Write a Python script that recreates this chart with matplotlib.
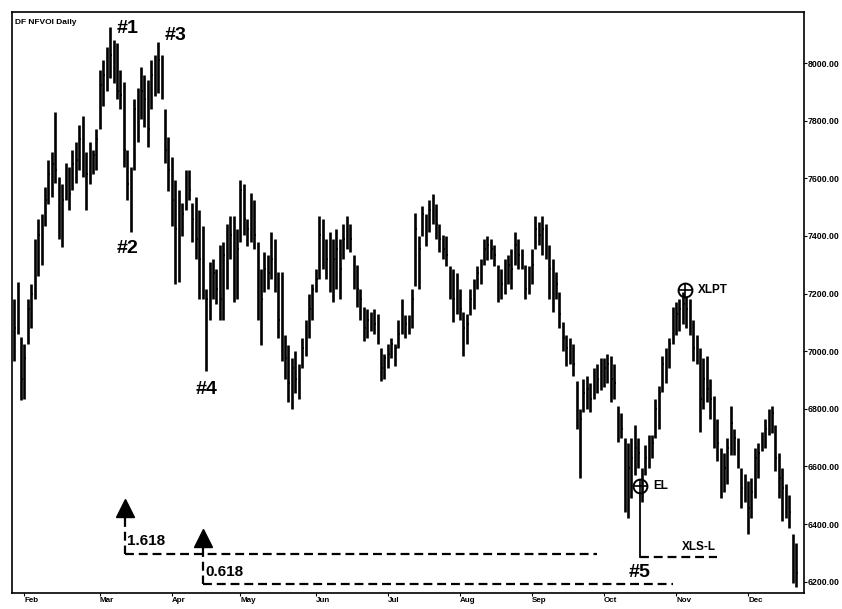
import numpy as np
import matplotlib
matplotlib.use("Agg")
import matplotlib.pyplot as plt

plt.rcParams['font.family'] = ['Liberation Sans', 'DejaVu Sans']

# daily bars (trading-day index 0..228)
highs = [7180, 7240, 7050, 7025, 7180, 7235, 7390, 7460, 7475, 7570,
         7665, 7690, 7830, 7605, 7580, 7655, 7640, 7700, 7725, 7785,
         7815, 7690, 7725, 7700, 7770, 7975, 8010, 8055, 8125, 8080,
         8070, 7975, 7935, 7700, 7640, 7875, 7915, 7985, 7960, 7940,
         8010, 8030, 8075, 8030, 7840, 7745, 7675, 7595, 7560, 7515,
         7630, 7630, 7515, 7535, 7490, 7435, 7215, 7310, 7320, 7285,
         7370, 7380, 7440, 7470, 7470, 7425, 7595, 7580, 7460, 7550,
         7525, 7380, 7285, 7345, 7335, 7415, 7390, 7275, 7275, 7055,
         7020, 6975, 7000, 6955, 7045, 7110, 7200, 7235, 7285, 7470,
         7460, 7390, 7415, 7390, 7425, 7390, 7440, 7470, 7440, 7335,
         7300, 7215, 7155, 7145, 7135, 7145, 7130, 7010, 6990, 7025,
         7045, 7025, 7110, 7180, 7125, 7125, 7215, 7480, 7400, 7505,
         7475, 7525, 7545, 7510, 7440, 7405, 7400, 7295, 7285, 7270,
         7215, 7135, 7130, 7215, 7250, 7295, 7320, 7390, 7400, 7390,
         7370, 7300, 7285, 7320, 7335, 7355, 7415, 7390, 7355, 7300,
         7295, 7355, 7470, 7450, 7470, 7440, 7370, 7320, 7275, 7205,
         7100, 7055, 7045, 7025, 6895, 6800, 6905, 6915, 6890, 6940,
         6955, 6975, 6975, 6990, 6985, 6955, 6810, 6785, 6700, 6680,
         6700, 6745, 6700, 6595, 6675, 6710, 6710, 6835, 6880, 6985,
         7010, 7045, 7155, 7170, 7180, 7205, 7190, 7180, 7110, 7055,
         7010, 6975, 6985, 6905, 6845, 6765, 6665, 6645, 6700, 6810,
         6730, 6700, 6595, 6575, 6550, 6560, 6665, 6680, 6720, 6765,
         6800, 6810, 6745, 6645, 6595, 6540, 6500, 6365, 6335]
lows = [6965, 7060, 6830, 6835, 7025, 7080, 7180, 7260, 7300, 7435,
        7510, 7535, 7585, 7390, 7360, 7525, 7490, 7560, 7585, 7630,
        7605, 7490, 7580, 7615, 7630, 7770, 7850, 7905, 7950, 7930,
        7875, 7840, 7640, 7525, 7415, 7630, 7725, 7805, 7780, 7710,
        7840, 7885, 7895, 7875, 7655, 7555, 7435, 7235, 7240, 7400,
        7490, 7525, 7380, 7320, 7180, 7180, 6930, 7110, 7180, 7165,
        7110, 7110, 7215, 7320, 7170, 7180, 7380, 7405, 7365, 7380,
        7355, 7110, 7020, 7205, 7215, 7250, 7205, 7045, 6965, 6905,
        6825, 6800, 6855, 6835, 6940, 6985, 7045, 7110, 7205, 7250,
        7285, 7250, 7205, 7170, 7215, 7180, 7320, 7355, 7345, 7215,
        7155, 7110, 7035, 7045, 7070, 7060, 7025, 6895, 6905, 6940,
        6975, 6950, 7010, 7060, 7045, 7060, 7080, 7225, 7215, 7400,
        7365, 7415, 7440, 7390, 7345, 7320, 7295, 7180, 7100, 7130,
        7110, 6985, 7025, 7125, 7145, 7215, 7235, 7300, 7315, 7320,
        7295, 7170, 7180, 7200, 7235, 7215, 7300, 7285, 7285, 7180,
        7200, 7235, 7355, 7370, 7335, 7320, 7180, 7135, 7180, 7080,
        7000, 6950, 6955, 6915, 6730, 6560, 6790, 6800, 6790, 6835,
        6855, 6865, 6875, 6890, 6825, 6835, 6685, 6700, 6440, 6420,
        6490, 6570, 6595, 6475, 6570, 6595, 6630, 6700, 6730, 6860,
        6890, 6940, 7025, 7055, 7070, 7095, 7080, 7055, 6965, 6955,
        6720, 6800, 6825, 6765, 6665, 6620, 6490, 6510, 6540, 6640,
        6640, 6595, 6455, 6475, 6365, 6420, 6490, 6560, 6655, 6665,
        6710, 6715, 6585, 6490, 6410, 6420, 6385, 6195, 6180]
closes = [7080, 7180, 6905, 6975, 7145, 7200, 7335, 7405, 7425, 7525,
          7615, 7650, 7630, 7475, 7525, 7595, 7545, 7650, 7665, 7735,
          7770, 7615, 7665, 7680, 7735, 7925, 7960, 7995, 8030, 8010,
          7905, 7890, 7700, 7580, 7595, 7840, 7875, 7905, 7875, 7770,
          7960, 7975, 8010, 7925, 7700, 7630, 7525, 7425, 7460, 7475,
          7580, 7560, 7460, 7390, 7320, 7250, 7180, 7235, 7270, 7215,
          7180, 7335, 7390, 7405, 7425, 7355, 7560, 7460, 7425, 7490,
          7405, 7215, 7180, 7285, 7270, 7320, 7250, 7110, 7180, 6975,
          6890, 6940, 6905, 6920, 7010, 7080, 7145, 7215, 7250, 7405,
          7370, 7320, 7285, 7320, 7355, 7285, 7390, 7425, 7390, 7285,
          7215, 7180, 7080, 7110, 7110, 7095, 7060, 6940, 6975, 6990,
          7025, 7010, 7060, 7110, 7095, 7110, 7180, 7425, 7355, 7475,
          7405, 7490, 7510, 7440, 7390, 7355, 7335, 7235, 7180, 7215,
          7145, 7080, 7095, 7180, 7215, 7270, 7300, 7355, 7370, 7355,
          7335, 7250, 7235, 7250, 7300, 7285, 7370, 7335, 7320, 7215,
          7250, 7300, 7425, 7405, 7425, 7390, 7285, 7215, 7235, 7130,
          7045, 7010, 6990, 6955, 6800, 6765, 6855, 6870, 6835, 6890,
          6905, 6920, 6940, 6955, 6905, 6890, 6750, 6730, 6560, 6595,
          6630, 6665, 6645, 6540, 6630, 6665, 6680, 6800, 6855, 6955,
          6975, 7025, 7110, 7130, 7145, 7165, 7145, 7110, 7010, 6990,
          6835, 6905, 6870, 6835, 6700, 6680, 6575, 6595, 6665, 6750,
          6700, 6645, 6525, 6540, 6455, 6510, 6630, 6645, 6680, 6730,
          6765, 6785, 6630, 6560, 6525, 6490, 6440, 6250, 6230]

month_names = ['Feb', 'Mar', 'Apr', 'May', 'Jun', 'Jul', 'Aug', 'Sep', 'Oct', 'Nov', 'Dec']
month_starts = [3, 25, 46, 66, 88, 109, 130, 151, 172, 193, 214]

# pattern points: (label, day index, price)
wave_labels = [('#1', 33, 8121), ('#2', 33.2, 7358), ('#3', 47.2, 8097),
               ('#4', 56, 6867), ('#5', 182.5, 6231)]
arrow_days = [32.4, 55.1]
arrow_prices = [6456, 6352]
target_names = ['1.618', '0.618']
target_prices = [6297, 6190]
target_ends = [170, 192]
el_day, el_price = 182.5, 6532
xlpt_day, xlpt_price = 195.6, 7213
xls_price = 6286

days = np.arange(len(highs))

fig = plt.figure(figsize=(8.42, 6.09), dpi=100)
ax = fig.add_axes([0.0143, 0.027, 0.9405, 0.953])

ax.vlines(days, lows, highs, color='black', lw=1.9)
ax.hlines(closes, days, days + 0.5, color='black', lw=1.3)

# wave labels
for name, d, p in wave_labels:
    ax.text(d, p, name, fontsize=14, fontweight='bold', ha='center', va='center')

# fib target arrows and dashed levels
dash = (0, (4, 2.2))
for d, p, name, tp, end in zip(arrow_days, arrow_prices, target_names, target_prices, target_ends):
    ax.plot(d, p, marker='^', color='black', markersize=13, linestyle='none')
    ax.plot([d, d], [p - 35, tp], color='black', lw=1.6, linestyle=dash)
    ax.plot([d, end], [tp, tp], color='black', lw=1.6, linestyle=dash)
    ax.text(d + 0.6, tp + 45, name, fontsize=11, fontweight='bold', ha='left', va='center')

# entry / exit markers
ax.plot([el_day, el_day], [el_price - 25, xls_price], color='black', lw=1.3)
ax.plot([el_day, 205], [xls_price, xls_price], color='black', lw=1.6, linestyle=dash)
for d, p in [(el_day, el_price), (xlpt_day, xlpt_price)]:
    ax.plot(d, p, marker='o', markersize=10, markerfacecolor='none',
            markeredgecolor='black', markeredgewidth=1.4, linestyle='none')
    ax.plot(d, p, marker='+', markersize=10, color='black', markeredgewidth=1.2, linestyle='none')
ax.text(el_day + 3.8, el_price, 'EL', fontsize=8.5, fontweight='bold', va='center')
ax.text(xlpt_day + 3.8, xlpt_price, 'XLPT', fontsize=8.5, fontweight='bold', va='center')
ax.text(194.8, 6321, 'XLS-L', fontsize=8.5, fontweight='bold', va='center')

ax.text(0.4, 8140, 'DF NFVOI Daily', fontsize=6, fontweight='bold', va='center')

ax.set_xlim(-0.6, 230.3)
ax.set_ylim(6162, 8177)

ax.yaxis.tick_right()
ax.set_yticks(np.arange(6200, 8001, 200))
ax.set_yticklabels([f'{v:.2f}' for v in np.arange(6200, 8001, 200)],
                   fontsize=6.3, fontweight='bold')
ax.tick_params(axis='y', length=2, width=0.8, pad=1)

ax.set_xticks(month_starts)
ax.set_xticklabels(month_names, fontsize=5.8, fontweight='bold', ha='left')
ax.tick_params(axis='x', length=2.5, width=0.8, pad=1)

for s in ax.spines.values():
    s.set_linewidth(1.2)

fig.savefig('out.png', dpi=100)
